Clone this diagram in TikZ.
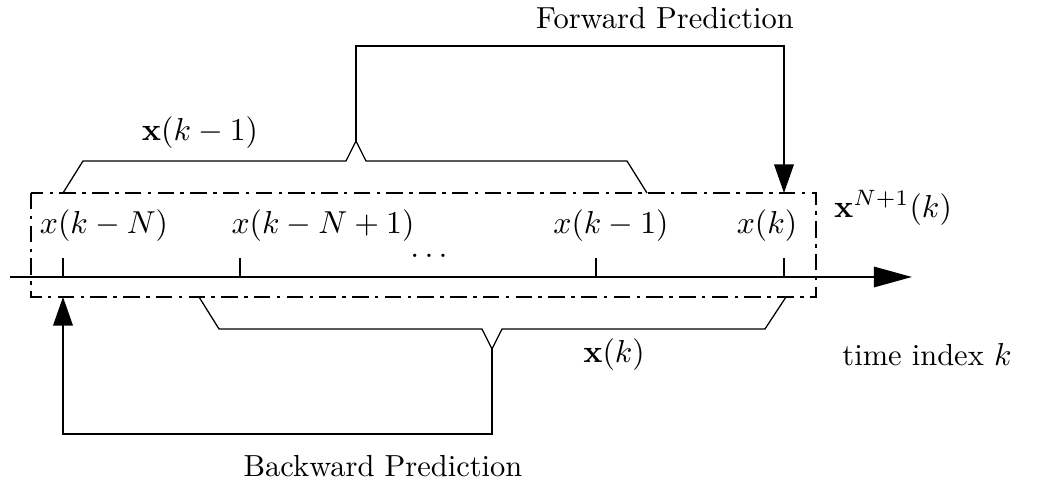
\documentclass[tikz,border=0pt]{standalone}
\usetikzlibrary{arrows.meta}
\begin{document}
\begin{tikzpicture}[x=0.315pt,y=-0.315pt,
  axisline/.style={line width=0.7pt,-{Triangle[length=12pt,width=6.4pt]}},
  tickline/.style={line width=0.7pt},
  boxline/.style={line width=0.7pt,dash pattern=on 5.2pt off 2pt on 1.1pt off 2pt},
  braceline/.style={line width=0.4pt},
  predline/.style={line width=0.4pt,-{Triangle[length=9pt,width=6.2pt]}},
  lbl/.style={inner sep=0pt,font=\fontsize{9.6}{11}\selectfont}]
\useasboundingbox (0,0) rectangle (1050,487);
% axis
\coordinate (axs) at (10,277);
\coordinate (axe) at (912,277);
\draw[axisline] (axs) -- (axe);
% ticks
\foreach \n/\x in {1/63,2/240,3/596,4/784}{
  \coordinate (tb\n) at (\x,277);
  \coordinate (tt\n) at (\x,258);
  \draw[tickline] (tb\n) -- (tt\n);
}
% dash-dot box
\coordinate (bxa) at (31,193);
\coordinate (bxb) at (816,297);
\draw[boxline] (bxa) rectangle (bxb);
% sample labels
\node[lbl] (s1) at (104,226) {$x(k-N)$};
\node[lbl] (s2) at (323,226) {$x(k-N+1)$};
\node[lbl] (s3) at (611,226) {$x(k-1)$};
\node[lbl] (s4) at (767,226) {$x(k)$};
\node[lbl] (dots) at (429,256) {$\dots$};
\node[lbl] (vec) at (893,208) {$\mathbf{x}^{N+1}(k)$};
\node[lbl] (time) at (927,355) {time index $k$};
% upper brace x(k-1)
\coordinate (ua) at (63,193);
\coordinate (ub) at (83,161);
\coordinate (uc) at (346,161);
\coordinate (up) at (356,141);
\coordinate (ud) at (366,161);
\coordinate (ue) at (627,161);
\coordinate (uf) at (647,193);
\draw[braceline] (ua) -- (ub) -- (uc) -- (up) -- (ud) -- (ue) -- (uf);
\node[lbl] (xkm1) at (200,133) {$\mathbf{x}(k-1)$};
% forward prediction
\coordinate (f1) at (356,46);
\coordinate (f2) at (784,46);
\coordinate (ftip) at (784,193);
\draw[predline] (up) -- (f1) -- (f2) -- (ftip);
\node[lbl] (fwd) at (665,18) {Forward Prediction};
% lower brace x(k)
\coordinate (la) at (199,297);
\coordinate (lb) at (219,329);
\coordinate (lc) at (482,329);
\coordinate (lp) at (492,349);
\coordinate (ld) at (502,329);
\coordinate (le) at (765,329);
\coordinate (lf) at (786,297);
\draw[braceline] (la) -- (lb) -- (lc) -- (lp) -- (ld) -- (le) -- (lf);
\node[lbl] (xk) at (614,355) {$\mathbf{x}(k)$};
% backward prediction
\coordinate (g1) at (492,434);
\coordinate (g2) at (63,434);
\coordinate (gtip) at (63,297);
\draw[predline] (lp) -- (g1) -- (g2) -- (gtip);
\node[lbl] (bwd) at (383,466) {Backward Prediction};
\end{tikzpicture}
\end{document}
